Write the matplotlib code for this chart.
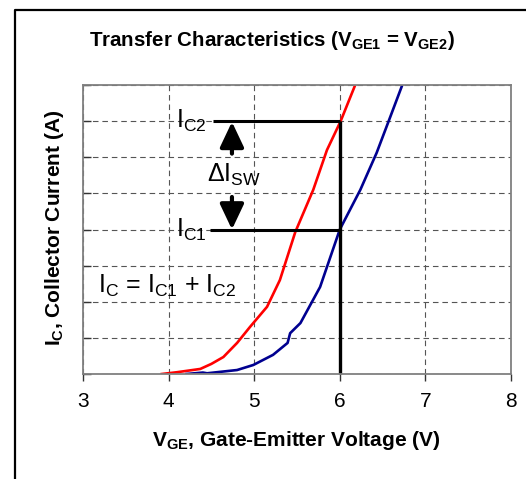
import matplotlib
matplotlib.use("Agg")
import matplotlib.pyplot as plt
from matplotlib.lines import Line2D

plt.rcParams['font.family'] = ['Liberation Sans', 'DejaVu Sans']
plt.rcParams['mathtext.fontset'] = 'custom'
plt.rcParams['mathtext.rm'] = 'Liberation Sans'
plt.rcParams['mathtext.bf'] = 'Liberation Sans:bold'
plt.rcParams['mathtext.it'] = 'Liberation Sans:italic'

# ---- data ----
red_v = [3.92, 4.10, 4.37, 4.50, 4.64, 4.80, 4.95, 5.15, 5.30, 5.48, 5.69, 5.85, 6.01, 6.18]
red_i = [0.00, 0.05, 0.14, 0.28, 0.47, 0.86, 1.30, 1.86, 2.60, 3.93, 5.10, 6.20, 7.00, 8.00]

blue_v = [4.21, 4.40, 4.45, 4.80, 4.99, 5.22, 5.39, 5.42, 5.54, 5.77, 6.00, 6.24, 6.43, 6.59, 6.73]
blue_i = [0.00, 0.04, 0.02, 0.11, 0.25, 0.53, 0.86, 1.13, 1.41, 2.41, 4.00, 5.10, 6.12, 7.12, 8.00]

x_ticks = [3, 4, 5, 6, 7, 8]
y_ticks = [0, 1, 2, 3, 4, 5, 6, 7, 8]

v_op = 6.0      # operating gate voltage
ic1 = 4.0
ic2 = 7.0

fig = plt.figure(figsize=(5.26, 4.79), dpi=100)
ax = fig.add_axes([83 / 526, 1 - 374 / 479, 428 / 526, 289 / 479])

ax.set_xlim(3, 8)
ax.set_ylim(0, 8)
ax.set_xticks(x_ticks)
ax.set_yticks(y_ticks)
ax.set_yticklabels([])
ax.grid(True, color='#555555', linestyle=(0, (5, 3.5)), linewidth=0.8)
for s in ax.spines.values():
    s.set_color('#808080')
    s.set_linewidth(1.3)
ax.tick_params(axis='x', direction='out', length=5, width=1, color='#333333',
               labelsize=15, pad=8)
ax.tick_params(axis='y', direction='in', length=6, width=1, color='#333333')

# curves
ax.plot(red_v, red_i, color='#ff0000', lw=1.9)
ax.plot(blue_v, blue_i, color='#000090', lw=1.9)

# operating point lines
ax.plot([4.52, v_op], [ic2, ic2], color='k', lw=2.2, solid_capstyle='butt')
ax.plot([4.48, v_op], [ic1, ic1], color='k', lw=2.2, solid_capstyle='butt')
ax.plot([v_op, v_op], [0, ic2], color='k', lw=2.4, solid_capstyle='butt', clip_on=False)

# delta arrows
arr = dict(arrowstyle='-|>,head_length=0.55,head_width=0.26', lw=3.0, color='k',
           mutation_scale=28, shrinkA=0, shrinkB=0)
ax.annotate('', xy=(4.74, 6.98), xytext=(4.74, 6.1), arrowprops=arr)
ax.annotate('', xy=(4.74, 4.0), xytext=(4.74, 4.9), arrowprops=arr)

# annotations
ax.text(4.45, ic2, r'I$_{\mathrm{C2}}$', fontsize=18, ha='right', va='center')
ax.text(4.45, ic1, r'I$_{\mathrm{C1}}$', fontsize=18, ha='right', va='center')
ax.text(4.76, 5.5, r'$\Delta$I$_{\mathrm{SW}}$', fontsize=18, ha='center', va='center')
ax.text(3.18, 2.45, r'I$_{\mathrm{C}}$ = I$_{\mathrm{C1}}$ + I$_{\mathrm{C2}}$',
        fontsize=18, ha='left', va='center')

# titles / labels
fig.text(0.517, 1 - 40 / 479,
         r'Transfer Characteristics (V$_{\mathbf{GE1}}$ = V$_{\mathbf{GE2}}$)',
         fontsize=14.8, fontweight='bold', ha='center', va='center')
fig.text(296 / 526, 1 - 440 / 479, r'V$_{\mathbf{GE}}$, Gate-Emitter Voltage (V)',
         fontsize=15, fontweight='bold', ha='center', va='center')
fig.text(54 / 526, 1 - 228 / 479, r'I$_{\mathbf{C}}$, Collector Current (A)',
         fontsize=15, fontweight='bold', ha='center', va='center', rotation=90)

# outer chart frame (left and top edges visible)
fig.add_artist(Line2D([15 / 526, 15 / 526, 1.0], [0.0, 1 - 10 / 479, 1 - 10 / 479],
                      transform=fig.transFigure, color='k', lw=1.6))

fig.savefig('out.png', dpi=100)
